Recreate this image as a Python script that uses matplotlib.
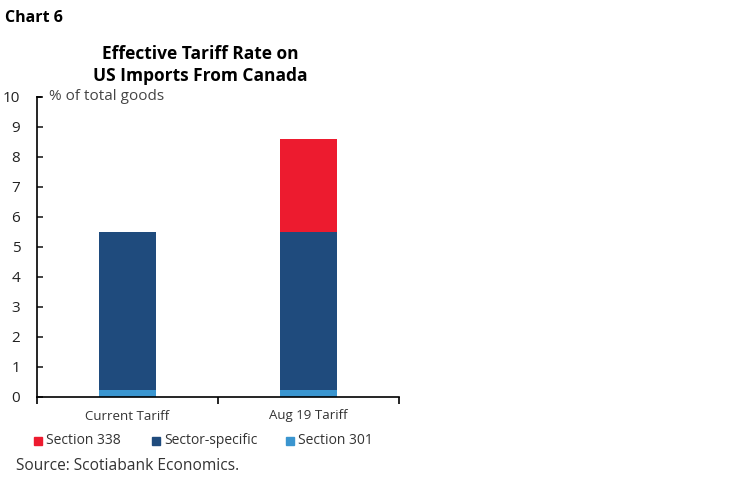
import matplotlib.pyplot as plt
import numpy as np
from matplotlib.patches import Rectangle

plt.rcParams["font.family"] = ["Open Sans", "DejaVu Sans"]

categories = ["Current Tariff", "Aug 19 Tariff"]
section_301 = [0.25, 0.25]
sector_specific = [5.25, 5.25]
section_338 = [0.0, 3.1]
series_names = ["Section 338", "Sector-specific", "Section 301"]
colors = ["#ED1B2F", "#1F4B7D", "#3A95CF"]

fig = plt.figure(figsize=(7.49, 4.82), dpi=100)
ax = fig.add_axes([37 / 749, 85 / 482, 362 / 749, 300 / 482])

x = np.arange(len(categories))
w = 0.31
ax.bar(x, section_301, w, color=colors[2], zorder=2)
ax.bar(x, sector_specific, w, bottom=section_301, color=colors[1], zorder=2)
bottom2 = np.array(section_301) + np.array(sector_specific)
ax.bar(x, section_338, w, bottom=bottom2, color=colors[0], zorder=2)

ax.set_xlim(-0.5, 1.5)
ax.set_ylim(0, 10)
ax.set_yticks(range(0, 11))
ax.tick_params(axis="y", direction="in", length=4, width=1.2, labelsize=11,
               pad=12, colors="#222222")
ax.set_xticks([-0.5, 0.5, 1.5])
ax.set_xticklabels([])
ax.set_xticks(x, minor=True)
ax.set_xticklabels(categories, minor=True)
ax.tick_params(axis="x", which="major", direction="out", length=5, width=1.2)
ax.tick_params(axis="x", which="minor", length=0, labelsize=9.5, pad=9,
               colors="#333333")
for s in ["top", "right"]:
    ax.spines[s].set_visible(False)
for s in ["left", "bottom"]:
    ax.spines[s].set_linewidth(1.2)
# small cap at top of y axis
ax.plot([0, 0.012], [10, 10], transform=ax.get_yaxis_transform(), color="black",
        lw=1.2, clip_on=False)

ax.text(0.033, 10, "% of total goods", transform=ax.get_yaxis_transform(),
        fontsize=11, va="center", color="#444444")

fig.text(0.007, 0.962, "Chart 6", fontsize=11.5, fontweight="bold", va="center")
fig.text(200 / 749, 0.865, "Effective Tariff Rate on\nUS Imports From Canada",
         ha="center", va="center", fontsize=12.5, fontweight="bold",
         linespacing=1.3)

# legend
leg_x = [34, 152, 286]
for lx, name, c in zip(leg_x, series_names, colors):
    fig.patches.append(Rectangle((lx / 749, 1 - 445 / 482), 8 / 749, 8 / 482,
                                 transform=fig.transFigure, color=c))
    fig.text((lx + 12) / 749, 1 - 441 / 482, name, fontsize=10, va="center",
             color="#333333")

fig.text(16 / 749, 1 - 466 / 482, "Source: Scotiabank Economics.", fontsize=11.2,
         va="center", color="#333333")

fig.savefig("out.png", dpi=100)
